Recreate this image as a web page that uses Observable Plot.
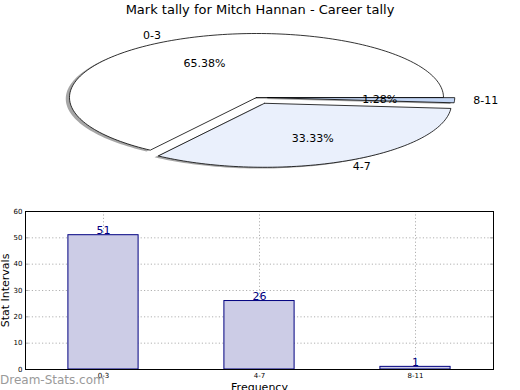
<!DOCTYPE html>
<html>
<head>
<meta charset="utf-8">
<script src="https://cdn.jsdelivr.net/npm/d3@7"></script>
<script src="https://cdn.jsdelivr.net/npm/@observablehq/plot@0.6"></script>
<style>
  html, body { margin: 0; padding: 0; background: #fff; }
  #wrap { position: relative; width: 520px; height: 390px; overflow: hidden; font-family: "DejaVu Sans", sans-serif; }
  #wrap > svg, #wrap > figure { position: absolute; left: 0; margin: 0; }
  #title { position: absolute; left: 0; top: 2px; width: 520px; text-align: center; font-size: 13px; color: #000; }
  #mark { position: absolute; left: 0; top: 373px; font-size: 12px; line-height: 14px; color: #9a9a9a; }
</style>
</head>
<body>
<div id="wrap"></div>
<script>
// ---- data ----
const categories = ["0-3", "4-7", "8-11"];
const counts = [51, 26, 1];
const percentLabels = ["65.38%", "33.33%", "1.28%"];
const explode = [0, 0.1, 0.06];
const sliceColors = ["#ffffff", "#eaf0fc", "#c4d7f6"];
const yTicks = [0, 10, 20, 30, 40, 50, 60];
const titleText = "Mark tally for Mitch Hannan - Career tally";

const wrap = document.getElementById("wrap");

// ---- pie geometry from data ----
const total = d3.sum(counts);
let start = 0;
const slices = counts.map((c, i) => {
  const a0 = start, a1 = start + 2 * Math.PI * c / total;
  start = a1;
  const mid = (a0 + a1) / 2;
  const ex = explode[i] * Math.cos(mid), ey = explode[i] * Math.sin(mid);
  const n = Math.max(4, Math.ceil((a1 - a0) / (2 * Math.PI) * 240));
  const pts = [{x: ex, y: ey}];
  for (let k = 0; k <= n; k++) {
    const t = a0 + (a1 - a0) * k / n;
    pts.push({x: ex + Math.cos(t), y: ey + Math.sin(t)});
  }
  pts.push({x: ex, y: ey});
  return {i, mid, ex, ey, pts};
});

const labelData = slices.map(s => ({
  label: categories[s.i],
  pct: percentLabels[s.i],
  lx: s.ex + 1.1 * Math.cos(s.mid), ly: s.ey + 1.1 * Math.sin(s.mid),
  px: s.ex + 0.6 * Math.cos(s.mid), py: s.ey + 0.6 * Math.sin(s.mid),
  right: Math.cos(s.mid) >= 0
}));

const pieMarks = [];
slices.forEach(s => {
  pieMarks.push(Plot.line(s.pts, {x: d => d.x - 0.02, y: d => d.y - 0.02, fill: "#4d4d4d", fillOpacity: 0.5, stroke: "none"}));
});
slices.forEach(s => {
  pieMarks.push(Plot.line(s.pts, {x: "x", y: "y", fill: sliceColors[s.i], stroke: "#000", strokeWidth: 0.8}));
});
pieMarks.push(Plot.text(labelData.filter(d => d.right), {x: "lx", y: "ly", text: "label", textAnchor: "start", fontSize: 11, fill: "#000"}));
pieMarks.push(Plot.text(labelData.filter(d => !d.right), {x: "lx", y: "ly", text: "label", textAnchor: "end", fontSize: 11, fill: "#000"}));
pieMarks.push(Plot.text(labelData, {x: "px", y: "py", text: "pct", fontSize: 11, fill: "#000"}));

const pie = Plot.plot({
  width: 520, height: 185,
  marginTop: 0, marginBottom: 0, marginLeft: 0, marginRight: 0,
  style: {background: "transparent", fontFamily: "DejaVu Sans, sans-serif"},
  x: {domain: [-1, 1], range: [69, 443], axis: null},
  y: {domain: [-1, 1], range: [161, 33], axis: null},
  marks: pieMarks
});
pie.style.top = "0px";
wrap.appendChild(pie);

// ---- bar chart ----
const bars = categories.map((c, i) => ({i, cat: c, value: counts[i]}));
const grid = {stroke: "#b0b0b0", strokeOpacity: 1, strokeDasharray: "1.2,2.2", strokeWidth: 1};

const bar = Plot.plot({
  width: 520, height: 190,
  marginTop: 11, marginBottom: 21, marginLeft: 25, marginRight: 27,
  style: {background: "transparent", fontFamily: "DejaVu Sans, sans-serif"},
  x: {domain: [-0.5, 2.5]},
  y: {domain: [0, 60]},
  marks: [
    Plot.gridY({ticks: yTicks, ...grid}),
    Plot.gridX({ticks: bars.map(d => d.i), ...grid}),
    Plot.rectY(bars, {x1: d => d.i - 0.225, x2: d => d.i + 0.225, y1: 0, y2: "value", fill: "#ccccE6", stroke: "#000080", strokeWidth: 1}),
    Plot.text(bars, {x: "i", y: "value", text: d => String(d.value), lineAnchor: "bottom", dy: -1, fontSize: 11, fill: "#000080"}),
    Plot.ruleY(yTicks, {y: d => d, x1: -0.5, x2: -0.48, stroke: "#aaa"}),
    Plot.ruleY(yTicks, {y: d => d, x1: 2.48, x2: 2.5, stroke: "#aaa"}),
    Plot.frame({stroke: "#000", strokeWidth: 1}),
    Plot.axisY({ticks: yTicks, tickSize: 0, tickPadding: 3, fontSize: 7, label: null}),
    Plot.axisX({ticks: bars.map(d => d.i), tickFormat: i => categories[i], tickSize: 0, tickPadding: 4, fontSize: 7, label: null}),
    Plot.text(["Stat Intervals"], {frameAnchor: "left", textAnchor: "middle", dx: -20, rotate: -90, fontSize: 11, fill: "#000"}),
    Plot.text(["Frequency"], {frameAnchor: "bottom", lineAnchor: "top", dy: 14, fontSize: 11, fill: "#000"})
  ]
});
bar.style.top = "200px";
wrap.appendChild(bar);

const title = document.createElement("div");
title.id = "title";
title.textContent = titleText;
wrap.appendChild(title);

const mark = document.createElement("div");
mark.id = "mark";
mark.textContent = "Dream-Stats.com";
wrap.appendChild(mark);
</script>
</body>
</html>
